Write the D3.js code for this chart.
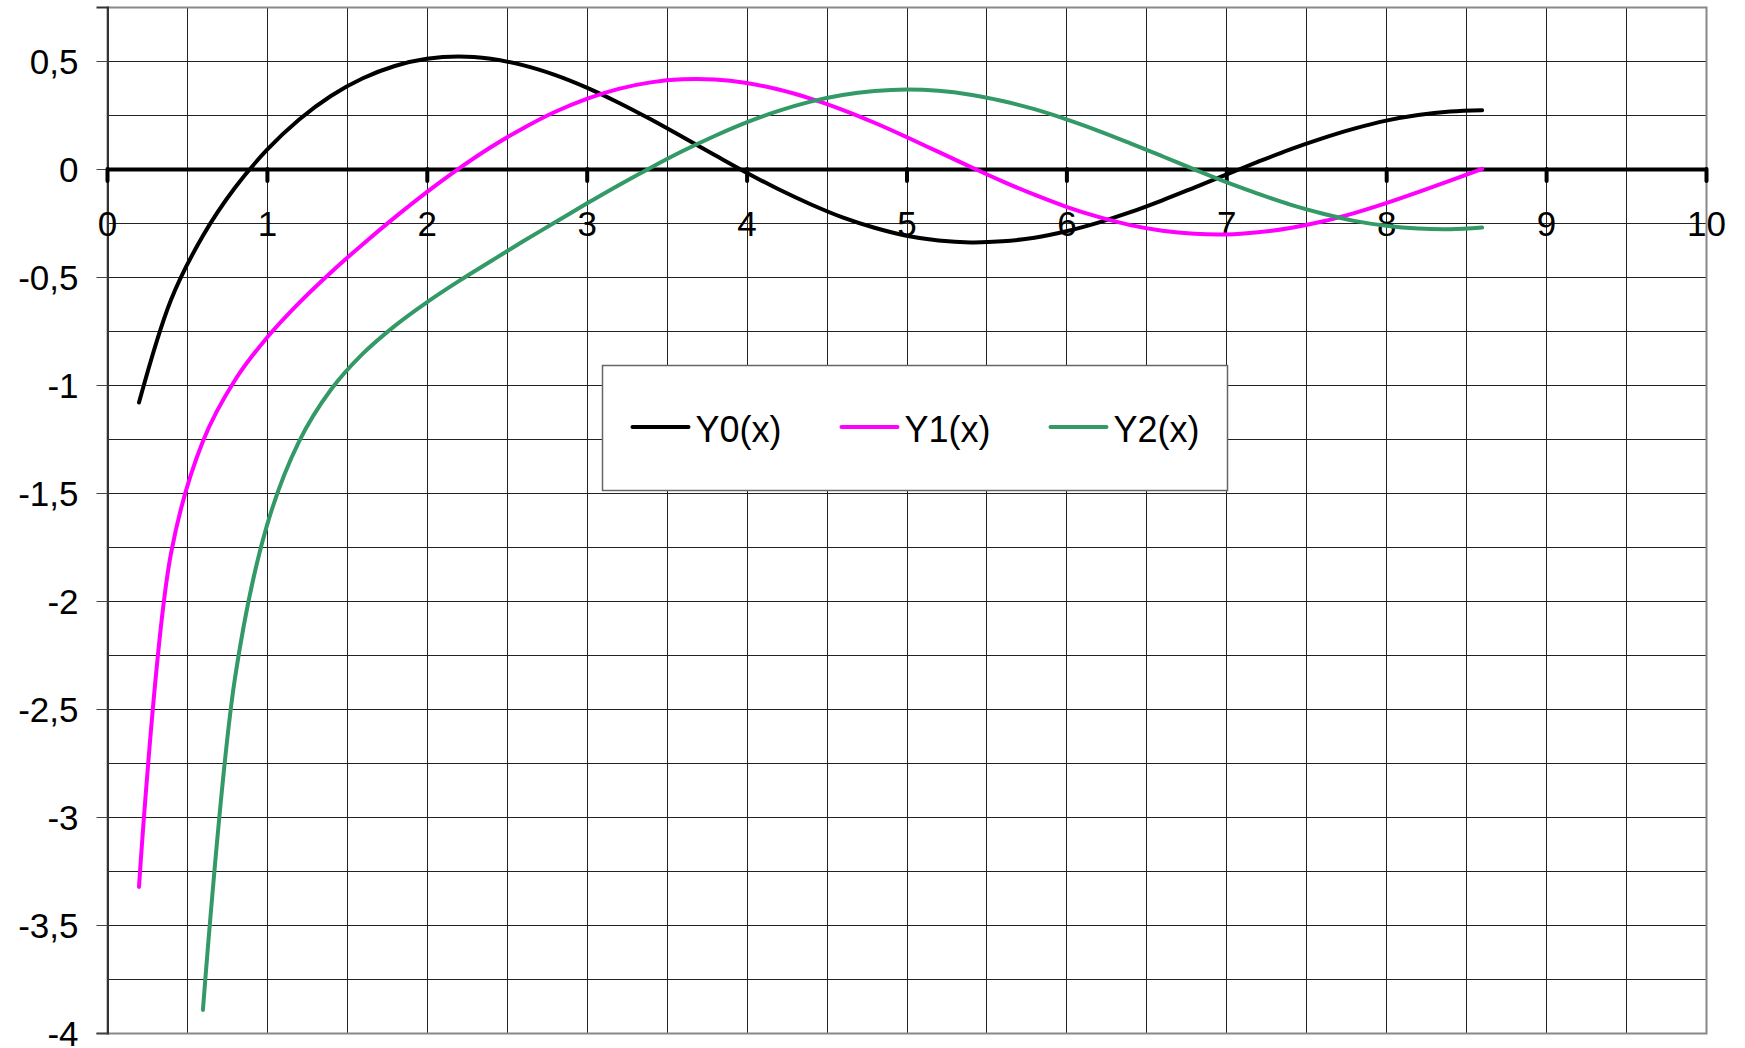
<!DOCTYPE html>
<html>
<head>
<meta charset="utf-8">
<script src="https://cdn.jsdelivr.net/npm/d3@7"></script>
<style>
  body { margin: 0; background: #fff; }
  svg text { font-family: "Liberation Sans", Arial, sans-serif; fill: #000; }
</style>
</head>
<body>
<div id="container"></div>
<script>
/* DATA */
const xValues = [0.2, 0.4, 0.6, 0.8, 1.0, 1.2, 1.4, 1.6, 1.8, 2.0, 2.2, 2.4, 2.6, 2.8, 3.0,
  3.2, 3.4, 3.6, 3.8, 4.0, 4.2, 4.4, 4.6, 4.8, 5.0, 5.2, 5.4, 5.6, 5.8, 6.0,
  6.2, 6.4, 6.6, 6.8, 7.0, 7.2, 7.4, 7.6, 7.8, 8.0, 8.2, 8.4, 8.6];

const y0Values = [-1.081, -0.606, -0.309, -0.087, 0.088, 0.228, 0.338, 0.420, 0.477, 0.510,
  0.521, 0.510, 0.481, 0.436, 0.377, 0.307, 0.230, 0.148, 0.065, -0.017,
  -0.094, -0.163, -0.224, -0.272, -0.309, -0.331, -0.340, -0.335, -0.318, -0.288,
  -0.248, -0.200, -0.145, -0.086, -0.026, 0.034, 0.091, 0.142, 0.187, 0.224,
  0.250, 0.266, 0.272];

const y1Values = [-3.324, -1.781, -1.260, -0.978, -0.781, -0.621, -0.479, -0.348, -0.224, -0.107,
  0.002, 0.101, 0.188, 0.264, 0.325, 0.371, 0.401, 0.415, 0.414, 0.398,
  0.368, 0.326, 0.274, 0.214, 0.148, 0.079, 0.010, -0.057, -0.119, -0.175,
  -0.222, -0.260, -0.286, -0.300, -0.303, -0.293, -0.273, -0.243, -0.204, -0.158,
  -0.107, -0.054, 0.001];

// Y2 starts at x = 0.6 (earlier points are off the chart)
const y2Values = [null, null, -3.893, -2.359, -1.651, -1.263, -1.022, -0.855, -0.726, -0.617,
  -0.519, -0.427, -0.336, -0.248, -0.160, -0.075, 0.006, 0.083, 0.153, 0.216,
  0.269, 0.312, 0.343, 0.361, 0.368, 0.362, 0.344, 0.315, 0.277, 0.230,
  0.177, 0.119, 0.059, -0.002, -0.061, -0.115, -0.165, -0.206, -0.240, -0.263,
  -0.276, -0.279, -0.271];

const seriesNames = ["Y0(x)", "Y1(x)", "Y2(x)"];
const seriesColors = ["#000000", "#ff00ff", "#339966"];
const xTicks = [0, 1, 2, 3, 4, 5, 6, 7, 8, 9, 10];
const yTicks = [-4, -3.5, -3, -2.5, -2, -1.5, -1, -0.5, 0, 0.5];

/* CONSTANTS */
const width = 1745, height = 1048;
const margin = { left: 107, top: 7, right: 39, bottom: 15 };

const svg = d3.select("#container")
  .append("svg")
  .attr("width", width)
  .attr("height", height);

// SCALES
const xScale = d3.scaleLinear()
  .domain([0, 10])
  .range([margin.left, width - margin.right]);

const yScale = d3.scaleLinear()
  .domain([-4, 0.75])
  .range([height - margin.bottom, margin.top]);

const comma = d => String(d).replace(".", ",");
const px = v => Math.round(v) + 0.5;

// GRID
const grid = svg.append("g");
d3.range(0.5, 10, 0.5).forEach(v => {
  grid.append("line")
    .attr("x1", px(xScale(v))).attr("x2", px(xScale(v)))
    .attr("y1", yScale(0.75)).attr("y2", yScale(-4))
    .attr("stroke", "#222").attr("stroke-width", 1);
});
d3.range(-3.75, 0.75, 0.25).forEach(v => {
  grid.append("line")
    .attr("x1", xScale(0)).attr("x2", xScale(10))
    .attr("y1", px(yScale(v))).attr("y2", px(yScale(v)))
    .attr("stroke", "#222").attr("stroke-width", 1);
});

// PLOT BORDER
svg.append("rect")
  .attr("x", px(xScale(0))).attr("y", px(yScale(0.75)))
  .attr("width", Math.round(xScale(10) - xScale(0)))
  .attr("height", Math.round(yScale(-4) - yScale(0.75)))
  .attr("fill", "none").attr("stroke", "#888").attr("stroke-width", 2);

// Y AXIS
const yAxis = d3.axisLeft(yScale)
  .tickValues(yTicks)
  .tickSize(11)
  .tickPadding(18)
  .tickFormat(comma);

svg.append("g")
  .attr("transform", `translate(${px(xScale(0))},0)`)
  .call(yAxis)
  .call(g => g.select(".domain").attr("stroke", "#333").attr("stroke-width", 2))
  .call(g => g.selectAll(".tick line").attr("stroke", "#444"))
  .call(g => g.selectAll("text")
    .attr("font-size", 35)
    .attr("dy", "0.36em")
    .attr("font-family", "Liberation Sans, Arial, sans-serif")
    .attr("fill", "#000"));

// X AXIS AT ZERO
const xAxis = d3.axisBottom(xScale)
  .tickValues(xTicks)
  .tickSize(12)
  .tickSizeOuter(0)
  .tickPadding(30)
  .tickFormat(d => d);

svg.append("g")
  .attr("transform", `translate(0,${yScale(0)})`)
  .call(xAxis)
  .call(g => g.select(".domain").attr("stroke", "#000").attr("stroke-width", 4))
  .call(g => g.selectAll(".tick line").attr("stroke", "#000").attr("stroke-width", 4)
    .attr("stroke-linecap", "round"))
  .call(g => g.selectAll("text")
    .attr("font-size", 35)
    .attr("font-family", "Liberation Sans, Arial, sans-serif")
    .attr("fill", "#000"));

// LINES
const lineGen = d3.line()
  .defined(d => d.y !== null)
  .x(d => xScale(d.x))
  .y(d => yScale(d.y))
  .curve(d3.curveCatmullRom);

const allSeries = [y0Values, y1Values, y2Values].map((vals, i) => ({
  name: seriesNames[i],
  color: seriesColors[i],
  points: xValues.map((x, j) => ({ x: x, y: vals[j] }))
}));

svg.selectAll(".series")
  .data(allSeries)
  .enter()
  .append("path")
  .attr("class", "series")
  .attr("d", d => lineGen(d.points))
  .attr("fill", "none")
  .attr("stroke", d => d.color)
  .attr("stroke-width", 4)
  .attr("stroke-linecap", "round")
  .attr("stroke-linejoin", "round");

// LEGEND
const legend = svg.append("g").attr("transform", "translate(602.5,365.5)");
legend.append("rect")
  .attr("width", 625).attr("height", 125)
  .attr("fill", "#fff").attr("stroke", "#666").attr("stroke-width", 1.5);

const legendX = [30, 239, 448];
allSeries.forEach((s, i) => {
  legend.append("line")
    .attr("x1", legendX[i]).attr("x2", legendX[i] + 56)
    .attr("y1", 61.5).attr("y2", 61.5)
    .attr("stroke", s.color).attr("stroke-width", 4)
    .attr("stroke-linecap", "round");
  legend.append("text")
    .attr("x", legendX[i] + 63)
    .attr("y", 76)
    .attr("font-size", 36)
    .text(s.name);
});
</script>
</body>
</html>
